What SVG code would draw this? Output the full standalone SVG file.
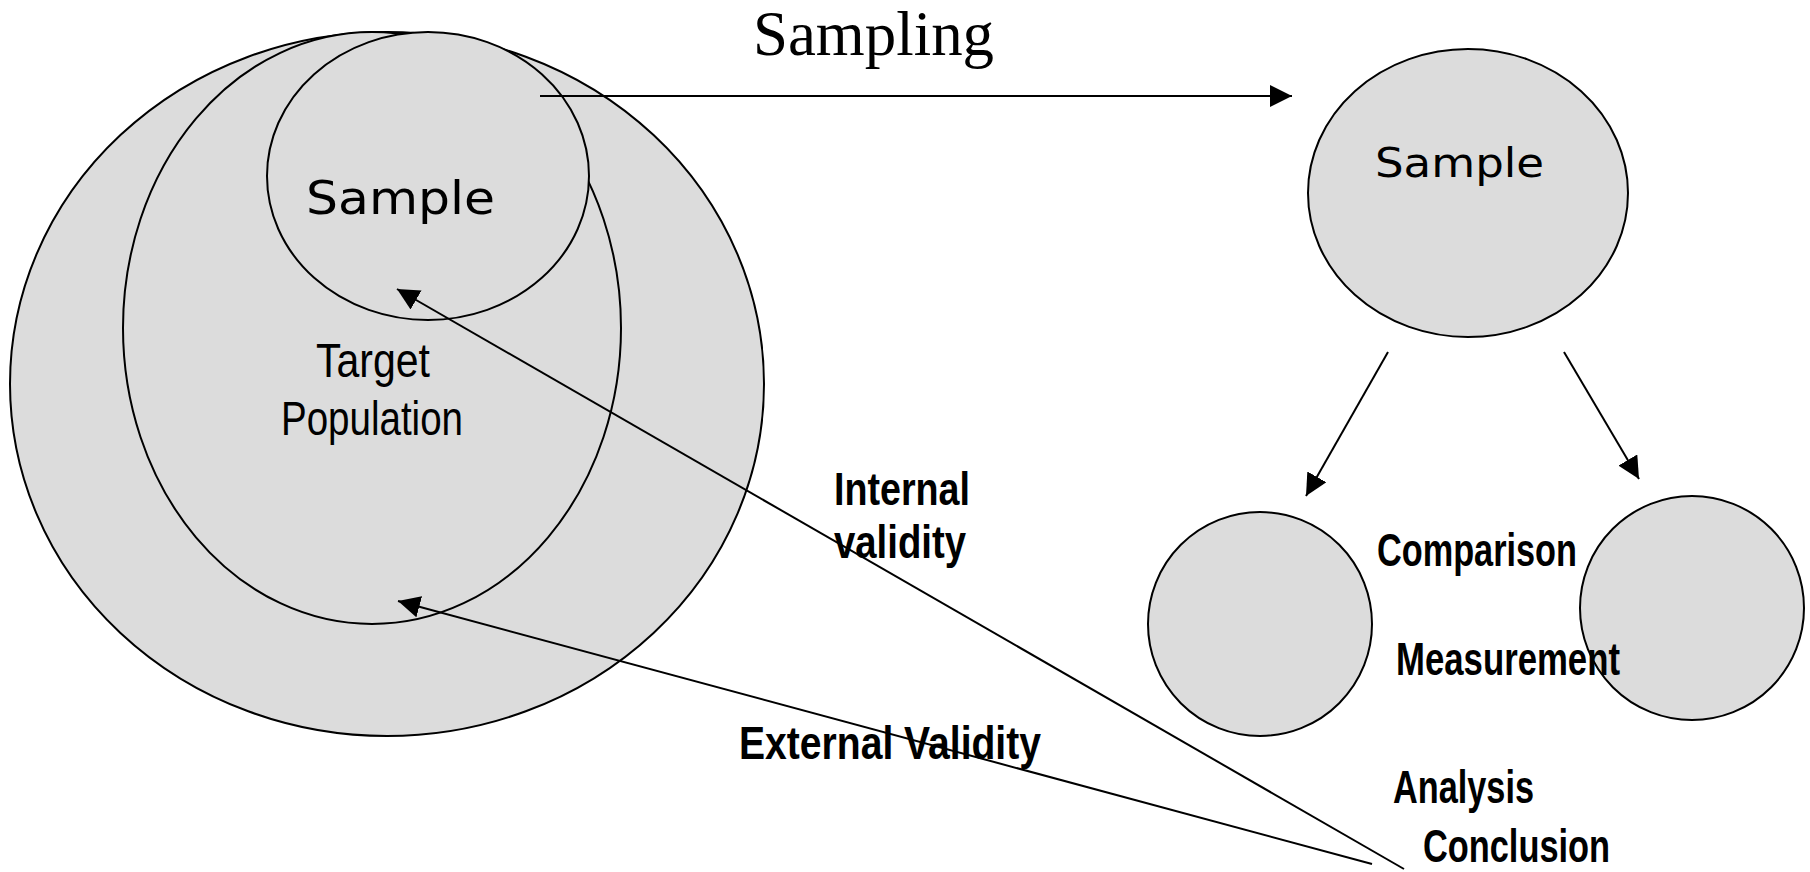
<svg xmlns="http://www.w3.org/2000/svg" width="1810" height="872" viewBox="0 0 1810 872">
<style>
.shape{fill:#dcdcdc;stroke:#000;stroke-width:2}
.conn{stroke:#000;stroke-width:2;fill:none}
.lbl{font-family:"Liberation Sans",Arial,sans-serif;font-weight:bold;font-size:46px;fill:#000}
.reg{font-family:"Liberation Sans",Arial,sans-serif;font-size:48px;fill:#000}
.smp{font-family:"DejaVu Sans",Verdana,sans-serif;fill:#000}
.title{font-family:"Liberation Serif","Times New Roman",serif;font-size:63px;fill:#000}
</style>
<defs>
<marker id="ah" markerUnits="userSpaceOnUse" markerWidth="22" markerHeight="22" viewBox="0 0 20 20" refX="20" refY="10" orient="auto">
<path d="M0,0 L20,10 L0,20 Z" fill="#000"/>
</marker>
</defs>
<rect width="1810" height="872" fill="#fff"/>
<g id="population">
<ellipse class="shape" cx="387" cy="384" rx="377" ry="352"/>
</g>
<g id="target-population">
<ellipse class="shape" cx="372" cy="328" rx="249" ry="296"/>
<text class="reg" x="316" y="377" textLength="114" lengthAdjust="spacingAndGlyphs">Target</text>
<text class="reg" x="281" y="435" textLength="182" lengthAdjust="spacingAndGlyphs">Population</text>
</g>
<g id="sample-left">
<ellipse class="shape" cx="428" cy="176" rx="161" ry="144"/>
<text class="smp" x="306" y="214" font-size="46" textLength="189" lengthAdjust="spacingAndGlyphs">Sample</text>
</g>
<g id="sample-right">
<ellipse class="shape" cx="1468" cy="193" rx="160" ry="144"/>
<text class="smp" x="1375" y="177" font-size="40" textLength="169" lengthAdjust="spacingAndGlyphs">Sample</text>
</g>
<g id="group-left">
<ellipse class="shape" cx="1260" cy="624" rx="112" ry="112"/>
</g>
<g id="group-right">
<ellipse class="shape" cx="1692" cy="608" rx="112" ry="112"/>
</g>
<g id="labels">
<text class="title" x="753" y="55" textLength="241" lengthAdjust="spacingAndGlyphs">Sampling</text>
<text class="lbl" x="834" y="505" textLength="136" lengthAdjust="spacingAndGlyphs">Internal</text>
<text class="lbl" x="834" y="558" textLength="132" lengthAdjust="spacingAndGlyphs">validity</text>
<text class="lbl" x="739" y="759" textLength="302" lengthAdjust="spacingAndGlyphs">External Validity</text>
<text class="lbl" x="1377" y="566" textLength="200" lengthAdjust="spacingAndGlyphs">Comparison</text>
<text class="lbl" x="1396" y="675" textLength="224" lengthAdjust="spacingAndGlyphs">Measurement</text>
<text class="lbl" x="1393" y="803" textLength="141" lengthAdjust="spacingAndGlyphs">Analysis</text>
<text class="lbl" x="1423" y="862" textLength="187" lengthAdjust="spacingAndGlyphs">Conclusion</text>
</g>
<g id="connectors">
<line class="conn" x1="540" y1="96" x2="1292" y2="96" marker-end="url(#ah)"/>
<line class="conn" x1="1388" y1="352" x2="1306" y2="496" marker-end="url(#ah)"/>
<line class="conn" x1="1564" y1="352" x2="1639" y2="479" marker-end="url(#ah)"/>
<line class="conn" x1="1404" y1="869" x2="397" y2="289" marker-end="url(#ah)"/>
<line class="conn" x1="1372" y1="864" x2="398" y2="601" marker-end="url(#ah)"/>
</g>
</svg>
